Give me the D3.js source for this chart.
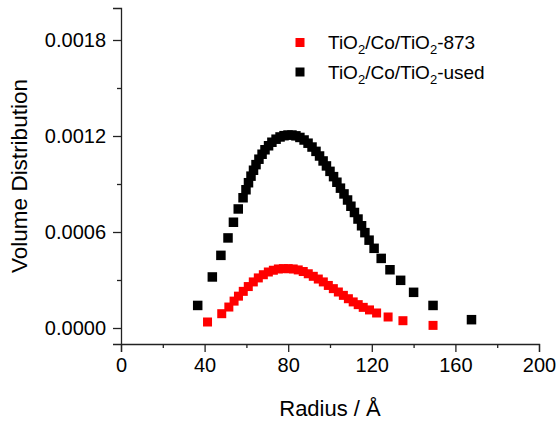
<!DOCTYPE html>
<html>
<head>
<meta charset="utf-8">
<script src="https://cdn.jsdelivr.net/npm/d3@7/dist/d3.min.js"></script>
<style>
  html, body { margin: 0; padding: 0; background: #fff; }
  svg { display: block; }
  text { font-family: "Liberation Sans", Arial, Helvetica, sans-serif; fill: #000; }
</style>
</head>
<body>
<svg id="chart" width="560" height="421"></svg>
<script>
// ---- data ----
const usedRadius = [36.7, 43.7, 47.8, 51.2, 53.8, 56.1,
  58.4, 59.8, 61.0, 62.2, 63.4, 64.6, 66.0, 67.5, 68.9, 70.6, 72.2, 74.2, 76.1, 78.0, 79.9, 81.8,
  83.7, 85.6, 87.6, 89.5, 91.4, 93.3, 95.0, 96.7, 98.3, 100.0, 101.7, 103.3, 105.0, 106.7, 108.4, 110.0,
  111.7, 113.4, 115.1, 116.7, 118.7,
  121.1, 124.5, 128.7, 133.8, 140.0, 149.3, 167.7];
const usedVolume = [0.000141, 0.000319, 0.000454, 0.000563, 0.000661, 0.000744,
  0.000814, 0.000864, 0.000908, 0.000949, 0.000986, 0.001021, 0.001055, 0.001086, 0.001114, 0.001139,
  0.001161, 0.001180, 0.001194, 0.001202, 0.001206, 0.001206,
  0.001201, 0.001191, 0.001175, 0.001155, 0.001131, 0.001104, 0.001075, 0.001044, 0.001013, 0.000979,
  0.000946, 0.000911, 0.000874, 0.000838, 0.000800, 0.000761, 0.000722, 0.000681, 0.000639, 0.000596, 0.000549,
  0.000498, 0.000435, 0.000364, 0.000298, 0.000223, 0.000141, 0.000052];

const r873Radius = [41.4, 48.2, 51.6, 54.1, 56.2, 58.5, 60.9, 63.3, 65.7, 68.1, 70.5, 72.9, 75.3, 77.7, 80.0, 82.4, 84.8, 87.2,
  89.6, 92.0, 94.4, 96.8, 99.2, 101.6, 104.0, 106.4, 108.8, 111.1, 113.5, 115.9, 118.9, 122.3, 127.8, 134.9, 149.3];
const r873Volume = [0.0000375, 0.0000894, 0.000131, 0.000168, 0.000199, 0.000229, 0.000259, 0.000288, 0.000313, 0.000333,
  0.000350, 0.000361, 0.000369, 0.000371, 0.000371, 0.000369, 0.000363, 0.000353, 0.000339, 0.000323, 0.000306, 0.000288,
  0.000266, 0.000246, 0.000225, 0.000204, 0.000183, 0.000163, 0.000146, 0.000129, 0.000113, 0.0000938, 0.0000688,
  0.0000456, 0.0000163];

const xMajorTicks = [0, 40, 80, 120, 160, 200];
const xMinorTicks = [20, 60, 100, 140, 180];
const yMajorTicks = [0, 0.0006, 0.0012, 0.0018];
const yMinorTicks = [0.0003, 0.0009, 0.0015];

const seriesNames = ["873", "used"];
const seriesColors = ["#ff0000", "#000000"];

// ---- layout ----
const svg = d3.select("#chart");
const x = d3.scaleLinear().domain([0, 200]).range([121, 539]);
const y = d3.scaleLinear().domain([-0.0001, 0.002]).range([344, 8]);

const axisColor = "#222";

// x axis
const gx = svg.append("g").attr("transform", `translate(0,${y.range()[0]})`);
gx.call(d3.axisBottom(x).tickValues(xMajorTicks).tickSize(8).tickPadding(4).tickFormat(d3.format("d")));
const gxm = svg.append("g").attr("transform", `translate(0,${y.range()[0]})`);
gxm.call(d3.axisBottom(x).tickValues(xMinorTicks).tickSize(4).tickFormat(""));
gxm.select(".domain").remove();

// y axis
const gy = svg.append("g").attr("transform", `translate(${x.range()[0]},0)`);
gy.call(d3.axisLeft(y).tickValues(yMajorTicks).tickSize(8).tickPadding(7).tickFormat(d3.format(".4f")));
const gym = svg.append("g").attr("transform", `translate(${x.range()[0]},0)`);
gym.call(d3.axisLeft(y).tickValues(yMinorTicks).tickSize(4).tickFormat(""));
gym.select(".domain").remove();

svg.selectAll(".domain").attr("stroke", axisColor).attr("stroke-width", 1.3);
svg.selectAll(".tick line").attr("stroke", axisColor).attr("stroke-width", 1.3);
svg.selectAll(".tick text").attr("font-size", 20).attr("font-family", "Liberation Sans, Arial, sans-serif").attr("fill", "#000");
gx.selectAll(".tick text").attr("dy", "0.78em");

// axis titles
svg.append("text")
  .attr("x", (x.range()[0] + x.range()[1]) / 2)
  .attr("y", 416)
  .attr("text-anchor", "middle")
  .attr("font-size", 22)
  .text("Radius / Å");

svg.append("text")
  .attr("transform", `translate(27,${(y.range()[0] + y.range()[1]) / 2}) rotate(-90)`)
  .attr("text-anchor", "middle")
  .attr("font-size", 22.5)
  .text("Volume Distribution");

// ---- markers ----
const used = usedRadius.map((r, i) => ({ r, v: usedVolume[i] }));
const s873 = r873Radius.map((r, i) => ({ r, v: r873Volume[i] }));

const sz = 9.5;
svg.append("g").selectAll("rect").data(used).join("rect")
  .attr("x", d => x(d.r) - sz / 2)
  .attr("y", d => y(d.v) - sz / 2)
  .attr("width", sz).attr("height", sz)
  .attr("fill", seriesColors[1]);

const szr = 9;
svg.append("g").selectAll("rect").data(s873).join("rect")
  .attr("x", d => x(d.r) - szr / 2)
  .attr("y", d => y(d.v) - szr / 2)
  .attr("width", szr).attr("height", szr)
  .attr("fill", seriesColors[0]);

// ---- legend ----
const legend = svg.append("g");
const legendRows = [
  { name: seriesNames[0], color: seriesColors[0], cy: 42.5, base: 48.5 },
  { name: seriesNames[1], color: seriesColors[1], cy: 72, base: 79 }
];
legendRows.forEach(row => {
  legend.append("rect")
    .attr("x", 300 - 4.5).attr("y", row.cy - 4.5)
    .attr("width", 9).attr("height", 9)
    .attr("fill", row.color);
  const t = legend.append("text")
    .attr("x", 328).attr("y", row.base)
    .attr("font-size", 19);
  t.append("tspan").text("TiO");
  t.append("tspan").attr("font-size", 13).attr("dy", 5).text("2");
  t.append("tspan").attr("dy", -5).text("/Co/TiO");
  t.append("tspan").attr("font-size", 13).attr("dy", 5).text("2");
  t.append("tspan").attr("dy", -5).text("-" + row.name);
});
</script>
</body>
</html>
